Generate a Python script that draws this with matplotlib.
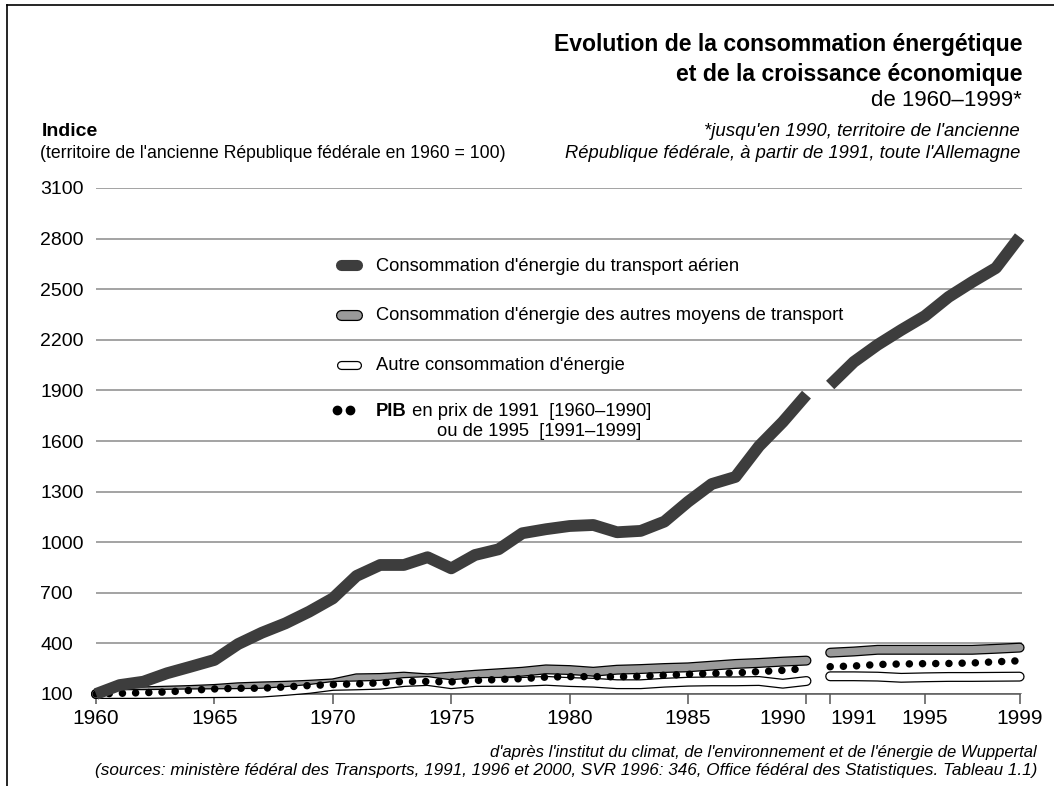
import matplotlib
matplotlib.use('Agg')
import matplotlib.pyplot as plt
import matplotlib.patheffects as pe
from matplotlib.lines import Line2D

plt.rcParams['font.family'] = ['Liberation Sans Narrow', 'Liberation Sans', 'DejaVu Sans']

# --- data (index, 1960 = 100) ---
years_a = list(range(1960, 1991))   # ancienne République fédérale
years_b = list(range(1991, 2000))   # toute l'Allemagne

air_a = [100, 153, 173, 223, 262, 302, 396, 463, 519, 588, 667, 800, 865, 865, 911, 845,
         924, 958, 1053, 1077, 1096, 1102, 1059, 1067, 1122, 1240, 1345, 1387, 1570, 1713, 1875]
air_b = [1932, 2069, 2170, 2258, 2341, 2454, 2543, 2626, 2810]

transport_a = [100, 108, 116, 120, 124, 130, 140, 145, 149, 155, 163, 193, 195, 203, 193, 203,
               214, 223, 232, 246, 242, 232, 244, 248, 254, 258, 268, 278, 284, 292, 298]
transport_b = [345, 352, 362, 362, 362, 362, 362, 368, 375]

autre_a = [100, 100, 100, 102, 104, 105, 106, 108, 118, 130, 148, 151, 155, 171, 177, 158,
           171, 172, 172, 178, 171, 167, 158, 158, 167, 173, 175, 175, 177, 161, 177]
autre_b = [205, 205, 203, 196, 199, 201, 201, 202, 203]

pib_a = [100, 104, 108, 112, 122, 130, 134, 134, 142, 150, 156, 160, 166, 174, 174, 172,
         180, 186, 191, 200, 203, 203, 202, 205, 211, 217, 222, 225, 233, 240, 252]
pib_b = [262, 266, 275, 278, 280, 281, 284, 291, 297]

yticks = list(range(100, 3101, 300))
xticks = [1960, 1965, 1970, 1975, 1980, 1985, 1990, 1991, 1995, 1999]

W, H = 1054, 786
def px(x, y):
    return x / W, 1 - y / H

DARK = '#3d3d3d'
GREY = '#9a9a9a'

fig = plt.figure(figsize=(W / 100, H / 100), dpi=100)
ax = fig.add_axes([96 / W, (H - 694) / H, (1022 - 96) / W, (694 - 188) / H])

band_fx = [pe.Stroke(linewidth=7.2, foreground='black'), pe.Normal()]

for xs, tr, au, pb, ai in [(years_a, transport_a, autre_a, pib_a, air_a),
                            (years_b, transport_b, autre_b, pib_b, air_b)]:
    ax.plot(xs, tr, color=GREY, lw=5.4, solid_capstyle='round', solid_joinstyle='round',
            path_effects=band_fx, clip_on=False, zorder=3)
    ax.plot(xs, au, color='white', lw=5.4, solid_capstyle='round', solid_joinstyle='round',
            path_effects=band_fx, clip_on=False, zorder=4)
    ax.plot(xs, pb, color='black', lw=5.4, linestyle=(0, (0.01, 1.75)),
            dash_capstyle='round', clip_on=False, zorder=5)
    ax.plot(xs, ai, color=DARK, lw=8.5, solid_capstyle='butt', solid_joinstyle='round',
            clip_on=False, zorder=6)

ax.set_xlim(1960, 1999.1)
ax.set_ylim(100, 3100)
ax.set_yticks(yticks)
ax.set_xticks(xticks)
ax.set_xticklabels([str(y) for y in xticks])
ax.grid(axis='y', color='#8a8a8a', lw=1.1)
ax.set_axisbelow(True)
for s in ['top', 'right', 'left']:
    ax.spines[s].set_visible(False)
ax.spines['bottom'].set_color('#555555')
ax.spines['bottom'].set_linewidth(1.1)
ax.spines['bottom'].set_bounds(1960, 1999)
ax.tick_params(axis='y', length=0, pad=40, labelsize=14)
for lab in ax.get_yticklabels():
    lab.set_horizontalalignment('left')
ax.tick_params(axis='x', length=7, width=1.1, color='#555555', labelsize=15, pad=4)
for lab, y in zip(ax.get_xticklabels(), xticks):
    if y == 1990:
        lab.set_horizontalalignment('right')
        lab.set_x(y + 0.1)
    elif y == 1991:
        lab.set_horizontalalignment('left')

# legend drawn by hand
def swatch(y, color, fx=None, lw=7.0):
    x0, y0 = px(341, y)
    x1, _ = px(357, y)
    fig.add_artist(Line2D([x0, x1], [y0, y0], color=color, lw=lw, solid_capstyle='round',
                          path_effects=fx, transform=fig.transFigure))

swatch(265, DARK, lw=8)
swatch(315, GREY, fx=[pe.Stroke(linewidth=8.0, foreground='black'), pe.Normal()], lw=6.2)
swatch(365, 'white', fx=[pe.Stroke(linewidth=6.6, foreground='black'), pe.Normal()], lw=4.8)
dx0, dy0 = px(337, 410)
dx1, _ = px(350, 410)
fig.add_artist(Line2D([dx0, dx1], [dy0, dy0], color='black', lw=0, marker='o', markersize=6,
                      transform=fig.transFigure))

leg_size = 13.2
fig.text(*px(376, 266), "Consommation d'énergie du transport aérien", fontsize=leg_size, va='center')
fig.text(*px(376, 316), "Consommation d'énergie des autres moyens de transport", fontsize=leg_size, va='center')
fig.text(*px(376, 366), "Autre consommation d'énergie", fontsize=leg_size, va='center')
pib = fig.text(*px(376, 411), "PIB", fontsize=leg_size, fontweight='bold', va='center')
ax.annotate(" en prix de 1991  [1960\u20131990]", xy=(1, 0.5), xycoords=pib, va='center',
            fontsize=leg_size)
fig.text(*px(641, 431), "ou de 1995  [1991\u20131999]", fontsize=leg_size, va='center', ha='right')

# titles and notes
fig.text(*px(1022, 45), "Evolution de la consommation énergétique", fontsize=16.6, fontweight='bold',
         ha='right', va='center')
fig.text(*px(1022, 75), "et de la croissance économique", fontsize=16.6, fontweight='bold',
         ha='right', va='center')
fig.text(*px(1022, 101), "de 1960\u20131999*", fontsize=16, ha='right', va='center')
fig.text(*px(1020, 132), "*jusqu'en 1990, territoire de l'ancienne", fontsize=13.4, style='italic',
         ha='right', va='center')
fig.text(*px(1020, 153), "République fédérale, à partir de 1991, toute l'Allemagne", fontsize=13.2,
         style='italic', ha='right', va='center')
fig.text(*px(42, 132), "Indice", fontsize=14, fontweight='bold', va='center')
fig.text(*px(40, 153), "(territoire de l'ancienne République fédérale en 1960 = 100)", fontsize=12.7,
         va='center')

fig.text(*px(1037, 752), "d'après l'institut du climat, de l'environnement et de l'énergie de Wuppertal",
         fontsize=12, style='italic', ha='right', va='center')
fig.text(*px(1037, 770), "(sources: ministère fédéral des Transports, 1991, 1996 et 2000, SVR 1996: 346, "
         "Office fédéral des Statistiques. Tableau 1.1)", fontsize=12.3, style='italic',
         ha='right', va='center')

# frame lines top and left
fig.add_artist(Line2D([7 / W, 7 / W], [0, 1 - 5 / H], color='black', lw=1.2, transform=fig.transFigure))
fig.add_artist(Line2D([7 / W, 1], [1 - 5 / H, 1 - 5 / H], color='black', lw=1.2, transform=fig.transFigure))

fig.savefig('out.png', dpi=100)
